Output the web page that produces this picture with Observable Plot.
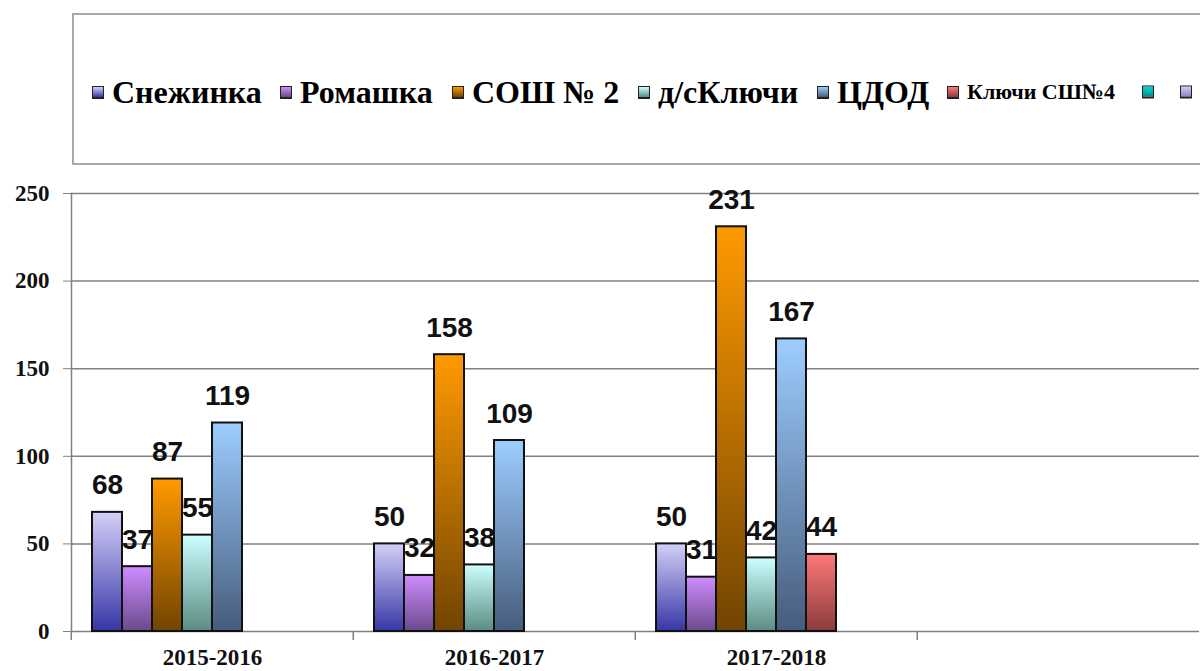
<!DOCTYPE html>
<html><head><meta charset="utf-8">
<script src="https://cdn.jsdelivr.net/npm/d3@7"></script>
<script src="https://cdn.jsdelivr.net/npm/@observablehq/plot@0.6"></script>
<style>
body{margin:0;background:#fff;width:1200px;height:671px;overflow:hidden;position:relative;font-family:"Liberation Serif","Times New Roman",serif}
#legendBox{position:absolute;left:72px;top:13px;width:1140px;height:152px;border:2px solid #a8a8a8;border-right:none;box-sizing:border-box}
.item{position:absolute;top:92px;transform:translateY(-50%);display:flex;align-items:center;font-weight:bold;font-size:32px;line-height:1;white-space:nowrap;color:#000}
.sw{width:10px;height:10px;border:1.5px solid #222;border-bottom-width:2.5px;margin-right:8px;flex:none}
#chart{position:absolute;left:0;top:170px}
</style></head><body>
<div id="legendBox"></div>
<div id="legend"></div>
<div id="chart"></div>
<script>
// ---- data ----
const years = ["2015-2016", "2016-2017", "2017-2018", ""];
const seriesKeys = ["s1", "s2", "s3", "s4", "s5", "s6", "s7", "s8"];
const seriesNames = ["Снежинка", "Ромашка", "СОШ № 2", "д/сКлючи", "ЦДОД", "Ключи СШ№4", "", ""];
const snezhinka = [68, 50, 50, null];
const romashka = [37, 32, 31, null];
const sosh2 = [87, 158, 231, null];
const dsKlyuchi = [55, 38, 42, null];
const cdod = [119, 109, 167, null];
const klyuchiSsh4 = [null, null, 44, null];
const series7 = [null, null, null, null];
const series8 = [null, null, null, null];
const yTicks = [0, 50, 100, 150, 200, 250];
// gradient colours (top, bottom)
const topColors = ["#d4d0f8", "#cf8cff", "#ff9a00", "#ccffff", "#9dcdff", "#ff7878", "#00d8d8", "#ccccff"];
const bottomColors = ["#3636a6", "#6a4a8c", "#714400", "#5a8c82", "#465c7c", "#8a3c3c", "#008a8a", "#8a8ac0"];

const allValues = [snezhinka, romashka, sosh2, dsKlyuchi, cdod, klyuchiSsh4, series7, series8];
const rows = [];
allValues.forEach((vals, si) => vals.forEach((v, yi) => {
  rows.push({year: years[yi], key: seriesKeys[si], value: v});
}));
const labelled = rows.filter(d => d.value != null);

// ---- legend (layout) ----
const legendLeft = [92, 280, 452, 638, 817, 947, 1142, 1180];
const legendSize = [32, 32, 32, 32, 32, 22, 32, 32];
const legend = document.getElementById("legend");
seriesKeys.forEach((k, i) => {
  const it = document.createElement("div");
  it.className = "item";
  it.style.left = legendLeft[i] + "px";
  it.style.fontSize = legendSize[i] + "px";
  const sw = document.createElement("div");
  sw.className = "sw";
  sw.style.background = `linear-gradient(${topColors[i]}, ${bottomColors[i]})`;
  it.appendChild(sw);
  if (seriesNames[i]) {
    const t = document.createElement("span");
    t.textContent = seriesNames[i];
    it.appendChild(t);
  }
  legend.appendChild(it);
});

// ---- chart ----
const W = 1200, H = 501, ML = 70, MR = 0;
const bw = (W - ML - MR) / years.length;

function defs() {
  const d = d3.create("svg:defs");
  seriesKeys.forEach((k, i) => {
    const g = d.append("linearGradient").attr("id", "grad" + i)
      .attr("x1", 0).attr("y1", 0).attr("x2", 0).attr("y2", 1);
    g.append("stop").attr("offset", "0%").attr("stop-color", topColors[i]);
    g.append("stop").attr("offset", "100%").attr("stop-color", bottomColors[i]);
  });
  return d.node();
}

const chart = Plot.plot({
  width: W, height: H,
  marginLeft: ML, marginRight: MR, marginTop: 23, marginBottom: 40,
  style: {background: "transparent", fontFamily: "Liberation Serif, Times New Roman, serif"},
  fx: {domain: years, padding: 0, label: null},
  x: {domain: seriesKeys, paddingInner: 0, paddingOuter: 0.7, axis: null},
  y: {domain: [0, 250], label: null},
  color: {domain: seriesKeys, range: seriesKeys.map((k, i) => `url(#grad${i})`)},
  marks: [
    defs,
    Plot.gridY(yTicks, {stroke: "#808080", strokeOpacity: 1, strokeWidth: 1.5}),
    Plot.frame({anchor: "left", facetAnchor: "left", stroke: "#808080", strokeWidth: 1.5}),
    Plot.barY(rows, {fx: "year", x: "key", y: "value", fill: "key", stroke: "#111", strokeWidth: 2}),
    Plot.text(labelled, {fx: "year", x: "key", y: "value", text: "value", dy: -27,
      fontFamily: "Liberation Sans, Arial, sans-serif", fontWeight: "bold", fontSize: 28, fill: "#111"}),
    Plot.axisY(yTicks, {tickSize: 8, tickPadding: 14, fontSize: 23, fontWeight: "bold", stroke: "#808080", fill: "#111"}),
    Plot.axisFx({anchor: "bottom", tickSize: 0, tickPadding: 17, fontSize: 23, fontWeight: "bold", fill: "#111"}),
    Plot.axisFx({anchor: "bottom", tickSize: 9, tickFormat: () => "", dx: -bw / 2, stroke: "#808080", strokeWidth: 1.5})
  ]
});
document.getElementById("chart").appendChild(chart);
</script>
</body></html>
